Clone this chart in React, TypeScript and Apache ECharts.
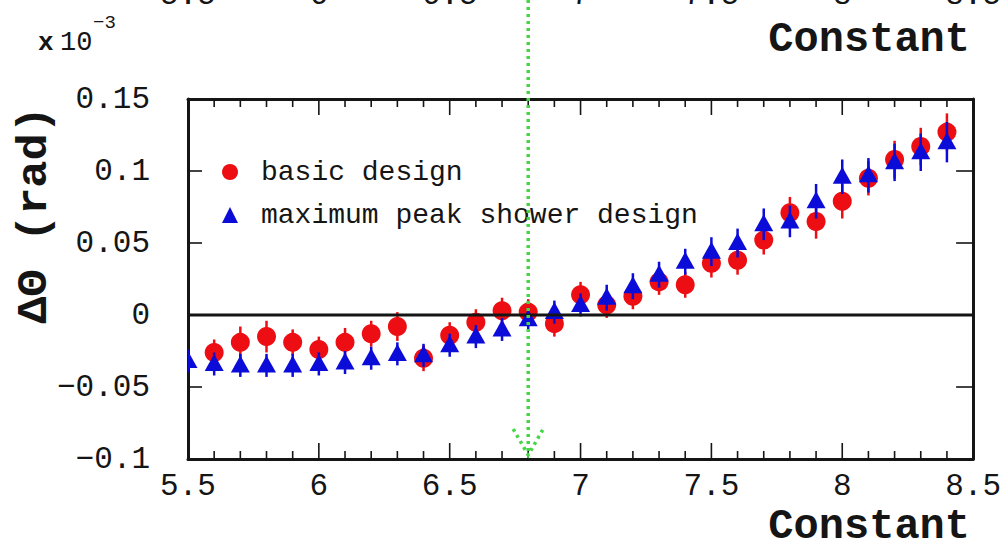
import React, { useEffect, useRef } from "react";
import * as echarts from "echarts";

// Constant values scanned (x) and the mean angular offset ΔΘ for each design
const constants = [
  5.5, 5.6, 5.7, 5.8, 5.9, 6.0, 6.1, 6.2, 6.3, 6.4,
  6.5, 6.6, 6.7, 6.8, 6.9, 7.0, 7.1, 7.2, 7.3, 7.4,
  7.5, 7.6, 7.7, 7.8, 7.9, 8.0, 8.1, 8.2, 8.3, 8.4,
];

const basicDesign: (number | null)[] = [
  null, -0.026, -0.019, -0.015, -0.019, -0.024, -0.019, -0.013, -0.008, -0.030,
  -0.014, -0.005, 0.003, 0.002, -0.006, 0.014, 0.007, 0.013, 0.023, 0.021,
  0.036, 0.038, 0.052, 0.071, 0.065, 0.079, 0.095, 0.108, 0.117, 0.127,
];
const basicDesignErr = [
  0, 0.009, 0.011, 0.011, 0.009, 0.009, 0.010, 0.009, 0.010, 0.009,
  0.009, 0.009, 0.009, 0.009, 0.009, 0.009, 0.009, 0.009, 0.009, 0.009,
  0.010, 0.010, 0.010, 0.011, 0.012, 0.012, 0.012, 0.013, 0.013, 0.013,
];

const peakShowerDesign = [
  -0.032, -0.034, -0.035, -0.035, -0.035, -0.034, -0.033, -0.030, -0.027, -0.028,
  -0.021, -0.015, -0.010, -0.003, 0.002, 0.007, 0.012, 0.020, 0.028, 0.037,
  0.044, 0.050, 0.063, 0.065, 0.079, 0.096, 0.097, 0.106, 0.113, 0.120,
];
const peakShowerDesignErr = [
  0.008, 0.008, 0.008, 0.008, 0.008, 0.008, 0.008, 0.008, 0.008, 0.008,
  0.008, 0.008, 0.008, 0.008, 0.008, 0.008, 0.009, 0.009, 0.009, 0.009,
  0.010, 0.010, 0.011, 0.011, 0.012, 0.012, 0.012, 0.013, 0.013, 0.014,
];

// Tick positions on the frame
const xMajorTicks = [5.5, 6, 6.5, 7, 7.5, 8, 8.5];
const xMinorTicks = [
  5.6, 5.7, 5.8, 5.9, 6.1, 6.2, 6.3, 6.4, 6.6, 6.7, 6.8, 6.9,
  7.1, 7.2, 7.3, 7.4, 7.6, 7.7, 7.8, 7.9, 8.1, 8.2, 8.3, 8.4,
];
const yMajorTicks = [-0.05, 0, 0.05, 0.1];

const markerConstant = 6.8;

const RED = "#ec0e12";
const BLUE = "#0c0cd8";
const GREEN = "#45d645";
const INK = "#151515";
const MONO = "'Liberation Mono', 'DejaVu Sans Mono', monospace";

type Kind = "circle" | "triangle";

function toTriples(ys: (number | null)[], errs: number[]) {
  const out: number[][] = [];
  constants.forEach((x, i) => {
    const y = ys[i];
    if (y !== null && y !== undefined) out.push([x, y, errs[i]]);
  });
  return out;
}

function markerRenderer(kind: Kind) {
  return (_params: any, api: any) => {
    const x = api.value(0);
    const y = api.value(1);
    const e = api.value(2);
    const c = api.coord([x, y]);
    const lo = api.coord([x, y - e]);
    const hi = api.coord([x, y + e]);
    const color = api.visual("color");
    const children: any[] = [
      {
        type: "line",
        shape: { x1: c[0], y1: lo[1], x2: c[0], y2: hi[1] },
        style: { stroke: color, lineWidth: 2.5 },
      },
    ];
    if (kind === "circle") {
      children.push({
        type: "circle",
        shape: { cx: c[0], cy: c[1], r: 9.5 },
        style: { fill: color },
      });
    } else {
      children.push({
        type: "polygon",
        shape: {
          points: [
            [c[0] - 9.5, c[1] + 7],
            [c[0] + 9.5, c[1] + 7],
            [c[0], c[1] - 10],
          ],
        },
        style: { fill: color },
      });
    }
    return { type: "group", children };
  };
}

function yLabel(v: number) {
  const r = parseFloat(v.toFixed(3));
  if (r === 0) return "0";
  return (r < 0 ? "\u2212" : "") + String(Math.abs(r));
}

export default function App() {
  const ref = useRef<HTMLDivElement>(null);

  useEffect(() => {
    if (!ref.current) return;
    const chart = echarts.init(ref.current, null, { renderer: "svg" });

    const frameLine = { show: true, onZero: false, lineStyle: { color: INK, width: 3 } };
    const plainAxis = {
      type: "value",
      axisLine: frameLine,
      axisTick: { show: false },
      splitLine: { show: false },
    };

    chart.setOption({
      animation: false,
      backgroundColor: "#ffffff",
      grid: { left: 188, right: 29, top: 99, bottom: 87, containLabel: false },
      legend: {
        orient: "vertical",
        left: 217,
        top: 153,
        itemWidth: 16,
        itemHeight: 16,
        itemGap: 15,
        selectedMode: false,
        data: [
          { name: "basic design", icon: "circle" },
          { name: "maximum peak shower design", icon: "triangle" },
        ],
        textStyle: {
          fontFamily: MONO,
          fontSize: 28,
          color: INK,
          padding: [0, 0, 0, 18],
        },
      },
      xAxis: [
        {
          ...plainAxis,
          min: 5.5,
          max: 8.5,
          interval: 0.5,
          position: "bottom",
          axisLabel: {
            margin: 12,
            fontFamily: MONO,
            fontSize: 31,
            color: INK,
            formatter: (v: number) => String(parseFloat(v.toFixed(2))),
          },
        },
        {
          ...plainAxis,
          min: 5.5,
          max: 8.5,
          interval: 0.5,
          position: "top",
          axisLabel: { show: false },
        },
      ],
      yAxis: [
        {
          ...plainAxis,
          min: -0.1,
          max: 0.15,
          interval: 0.05,
          position: "left",
          axisLabel: {
            margin: 38,
            fontFamily: MONO,
            fontSize: 31,
            color: INK,
            formatter: yLabel,
          },
        },
        {
          ...plainAxis,
          min: -0.1,
          max: 0.15,
          interval: 0.05,
          position: "right",
          axisLabel: { show: false },
        },
      ],
      series: [
        {
          name: "basic design",
          type: "custom",
          clip: true,
          itemStyle: { color: RED },
          data: toTriples(basicDesign, basicDesignErr),
          encode: { x: 0, y: 1 },
          renderItem: markerRenderer("circle"),
          z: 3,
        },
        {
          name: "maximum peak shower design",
          type: "custom",
          clip: true,
          itemStyle: { color: BLUE },
          data: toTriples(peakShowerDesign, peakShowerDesignErr),
          encode: { x: 0, y: 1 },
          renderItem: markerRenderer("triangle"),
          z: 4,
        },
        {
          name: "zero",
          type: "line",
          data: [
            [5.5, 0],
            [8.5, 0],
          ],
          symbol: "none",
          silent: true,
          lineStyle: { color: INK, width: 3 },
          z: 5,
        },
      ],
    });

    const px = (v: number) => chart.convertToPixel({ xAxisIndex: 0 }, v) as number;
    const py = (v: number) => chart.convertToPixel({ yAxisIndex: 0 }, v) as number;
    const left = px(5.5);
    const right = px(8.5);
    const top = py(0.15);
    const bottom = py(-0.1);

    // Inward ticks on all four edges of the frame
    const tickStyle = { stroke: INK, lineWidth: 1.6 };
    const tickLine = (x1: number, y1: number, x2: number, y2: number) => ({
      type: "line",
      z: 50,
      silent: true,
      shape: { x1, y1, x2, y2 },
      style: tickStyle,
    });
    const ticks: any[] = [];
    const xTick = (v: number, len: number) => {
      const x = px(v);
      ticks.push(tickLine(x, bottom, x, bottom - len));
      ticks.push(tickLine(x, top, x, top + len));
    };
    xMajorTicks.forEach((v) => xTick(v, 16));
    xMinorTicks.forEach((v) => xTick(v, 8));
    yMajorTicks.forEach((v) => {
      const y = py(v);
      ticks.push(tickLine(left, y, left + 14, y));
      ticks.push(tickLine(right, y, right - 17, y));
    });

    // Dotted green marker at the chosen constant, running up past the frame, with an arrow head
    const mx = px(markerConstant);
    const tipY = bottom - 4;
    const dotted = { stroke: GREEN, lineWidth: 3.5, lineDash: [3, 4] };

    // Tick labels of the panel above, whose lower edge shows at the top
    const topLabels = xMajorTicks.map((v) => ({
      type: "text",
      x: px(v),
      y: -5,
      style: {
        text: String(v),
        fontFamily: MONO,
        fontSize: 31,
        fill: INK,
        align: "center",
        verticalAlign: "middle",
      },
      silent: true,
    }));

    chart.setOption({
      graphic: [
        ...ticks,
        ...topLabels,
        {
          type: "line",
          z: 100,
          silent: true,
          shape: { x1: mx, y1: 0, x2: mx, y2: tipY },
          style: dotted,
        },
        {
          type: "polyline",
          z: 100,
          silent: true,
          shape: {
            points: [
              [mx - 15, tipY - 26],
              [mx, tipY],
              [mx + 15, tipY - 26],
            ],
          },
          style: { ...dotted, fill: null },
        },
        {
          type: "text",
          x: 38,
          y: 43,
          style: {
            text: "x",
            fontFamily: MONO,
            fontWeight: "bold",
            fontSize: 26,
            fill: INK,
            verticalAlign: "middle",
          },
          silent: true,
        },
        {
          type: "text",
          x: 60,
          y: 43,
          style: {
            text: "10",
            fontFamily: MONO,
            fontSize: 27,
            fill: INK,
            verticalAlign: "middle",
          },
          silent: true,
        },
        {
          type: "text",
          x: 93,
          y: 23,
          style: {
            text: "\u22123",
            fontFamily: MONO,
            fontSize: 19,
            fill: INK,
            verticalAlign: "middle",
          },
          silent: true,
        },
        {
          type: "text",
          x: 970,
          y: 40,
          style: {
            text: "Constant",
            fontFamily: MONO,
            fontWeight: "bold",
            fontSize: 42,
            fill: INK,
            align: "right",
            verticalAlign: "middle",
          },
          silent: true,
        },
        {
          type: "text",
          x: 970,
          y: 527,
          style: {
            text: "Constant",
            fontFamily: MONO,
            fontWeight: "bold",
            fontSize: 42,
            fill: INK,
            align: "right",
            verticalAlign: "middle",
          },
          silent: true,
        },
        {
          type: "text",
          x: 35,
          y: 106,
          rotation: Math.PI / 2,
          scaleX: 1.08,
          style: {
            text: "\u0394\u0398 (rad)",
            fontFamily: MONO,
            fontWeight: "bold",
            fontSize: 42,
            fill: INK,
            align: "right",
            verticalAlign: "middle",
          },
          silent: true,
        },
      ],
    });

    return () => {
      chart.dispose();
    };
  }, []);

  return (
    <div
      ref={ref}
      style={{ position: "fixed", left: 0, top: 0, width: 1004, height: 546 }}
    />
  );
}
